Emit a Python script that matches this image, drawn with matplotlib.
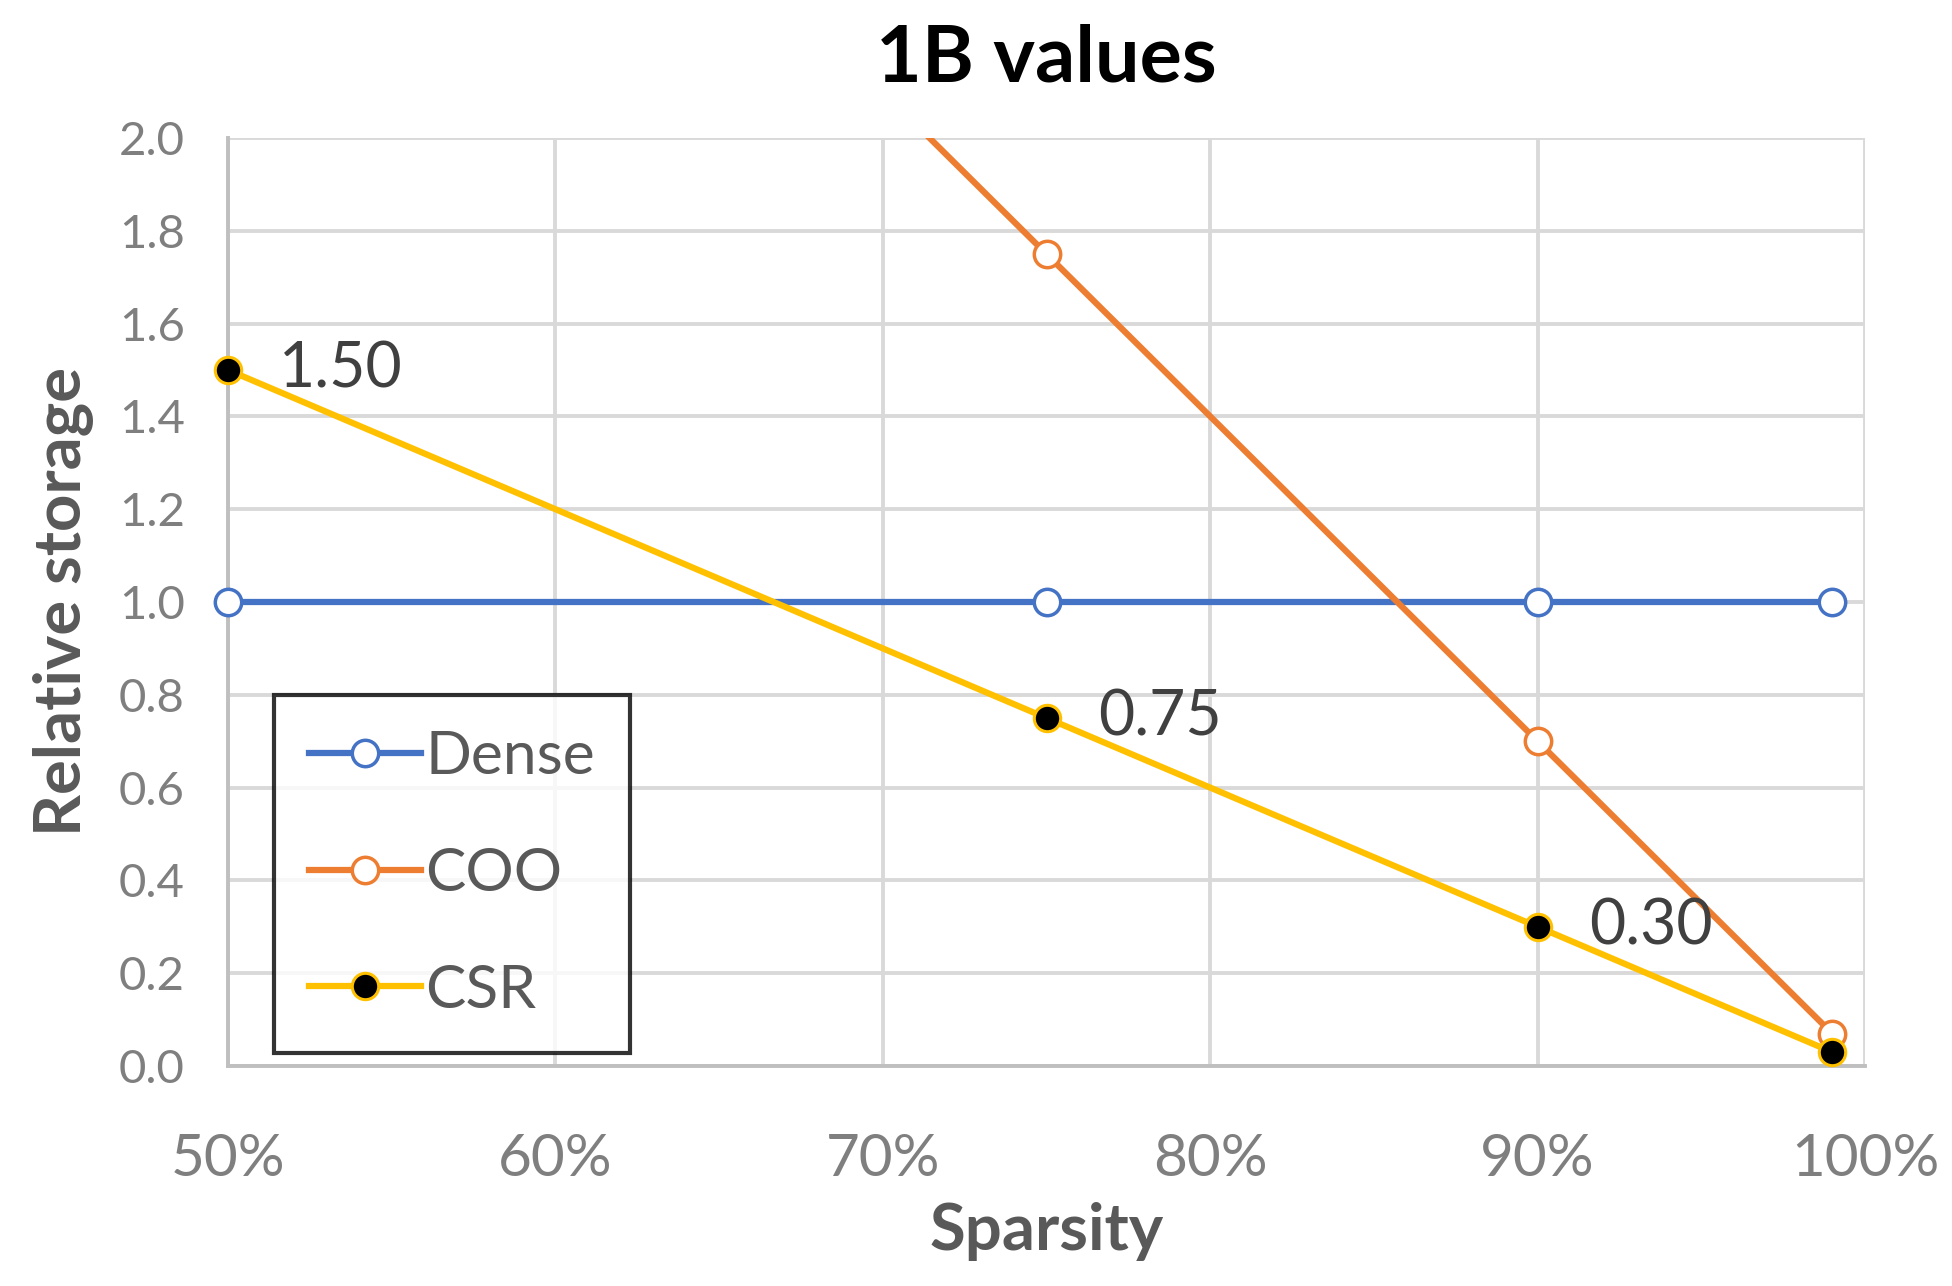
import matplotlib
matplotlib.use("Agg")
import matplotlib.pyplot as plt
from matplotlib.ticker import FuncFormatter

plt.rcParams['font.family'] = ['Lato', 'DejaVu Sans']

sparsity = [0.50, 0.75, 0.90, 0.99]
dense = [1.0, 1.0, 1.0, 1.0]
coo = [3.5, 1.75, 0.70, 0.07]
csr = [1.50, 0.75, 0.30, 0.03]
csr_labels = ["1.50", "0.75", "0.30", None]
x_ticks = [0.5, 0.6, 0.7, 0.8, 0.9, 1.0]
y_ticks = [0.0, 0.2, 0.4, 0.6, 0.8, 1.0, 1.2, 1.4, 1.6, 1.8, 2.0]

BLUE = "#4472C4"
ORANGE = "#ED7D31"
YELLOW = "#FFC000"
GRID = "#D9D9D9"
TICK = "#7F7F7F"
LABEL = "#595959"

fig = plt.figure(figsize=(19.52, 12.86), dpi=100)
ax = fig.add_axes([228/1952, 1 - 1066/1286, (1865-228)/1952, (1066-138)/1286])

lw = 4.5
ms = 19
ax.plot(sparsity, dense, color=BLUE, lw=lw, marker='o', ms=ms, mfc='white',
        mec=BLUE, mew=2.5, label='Dense', zorder=3, clip_on=False)
ax.plot(sparsity, coo, color=ORANGE, lw=lw, marker='o', ms=ms, mfc='white',
        mec=ORANGE, mew=2.5, label='COO', zorder=3)
ax.plot(sparsity, csr, color=YELLOW, lw=lw, marker='o', ms=ms, mfc='black',
        mec=YELLOW, mew=2.2, label='CSR', zorder=4, clip_on=False)

for xv, yv, lab in zip(sparsity, csr, csr_labels):
    if lab:
        ax.annotate(lab, (xv, yv), xytext=(37, 0), textcoords='offset points',
                    ha='left', va='center', fontsize=45, color='#404040', zorder=5)

ax.set_xlim(0.5, 1.0)
ax.set_ylim(0.0, 2.0)
ax.set_xticks(x_ticks)
ax.set_yticks(y_ticks)
ax.xaxis.set_major_formatter(FuncFormatter(lambda v, p: f"{v*100:.0f}%"))
ax.yaxis.set_major_formatter(FuncFormatter(lambda v, p: f"{v:.1f}"))
ax.tick_params(axis='x', length=0, pad=48, labelsize=42, labelcolor=TICK)
ax.tick_params(axis='y', length=0, pad=31, labelsize=34, labelcolor=TICK)

ax.grid(True, color=GRID, lw=2.8)
ax.set_axisbelow(True)
for s in ['top', 'right']:
    ax.spines[s].set_visible(False)
for s in ['left', 'bottom']:
    ax.spines[s].set_color('#BFBFBF')
    ax.spines[s].set_linewidth(2.8)

ax.set_xlabel("Sparsity", fontsize=47, fontweight='bold', color=LABEL, labelpad=12)
ax.set_ylabel("Relative storage", fontsize=47, fontweight='bold', color=LABEL, labelpad=18)
ax.set_title("1B values", fontsize=57, fontweight='bold', color='black', pad=41)

leg = ax.legend(loc='upper left', bbox_to_anchor=(0.028, 0.40), borderaxespad=0,
                fontsize=43.5, frameon=True, fancybox=False, edgecolor='black',
                handlelength=1.85, handletextpad=0.08, labelspacing=1.04,
                borderpad=0.58, labelcolor=LABEL)
leg.get_frame().set_linewidth(3)

fig.savefig("out.png", dpi=100, facecolor='white')
